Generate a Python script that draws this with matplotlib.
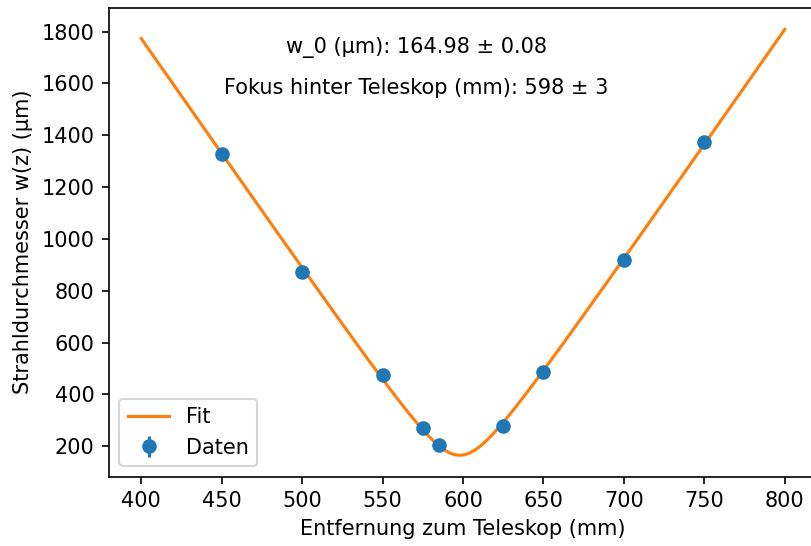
import numpy as np
import matplotlib
matplotlib.use("Agg")
import matplotlib.pyplot as plt
from matplotlib.ticker import MultipleLocator

# Messwerte: Abstand zum Teleskop (mm) und Strahldurchmesser (µm)
z_data = [450, 500, 550, 575, 585, 625, 650, 700, 750]
w_data = [1327, 873, 473, 269, 204, 277, 485, 919, 1373]
w_err = [15, 15, 15, 15, 15, 15, 15, 15, 15]

# Fitparameter
w0 = 164.98
w0_err = 0.08
z0 = 598
z0_err = 3
z_rayleigh = 18.5  # mm

def beam_width(z):
    return w0 * np.sqrt(1 + ((z - z0) / z_rayleigh) ** 2)

z_fit = np.linspace(400, 800, 1000)

W, H, DPI = 811, 546, 150
fig = plt.figure(figsize=(W / DPI, H / DPI), dpi=DPI)
ax = fig.add_axes([109 / W, (H - 476.5) / H, 708 / W, (476.5 - 8) / H])

ax.errorbar(z_data, w_data, yerr=w_err, fmt="o", label="Daten")
ax.plot(z_fit, beam_width(z_fit), label="Fit")

ax.yaxis.set_major_locator(MultipleLocator(200))
ax.set_xlabel("Entfernung zum Teleskop (mm)")
ax.set_ylabel("Strahldurchmesser w(z) (µm)")
ax.legend(loc="lower left")

fig.text(416 / W, 1 - 48 / H, f"w_0 (µm): {w0:.2f} ± {w0_err:.2f}", ha="center", va="center")
fig.text(416 / W, 1 - 88 / H, f"Fokus hinter Teleskop (mm): {z0} ± {z0_err}", ha="center", va="center")

fig.savefig("out.png", dpi=DPI)
